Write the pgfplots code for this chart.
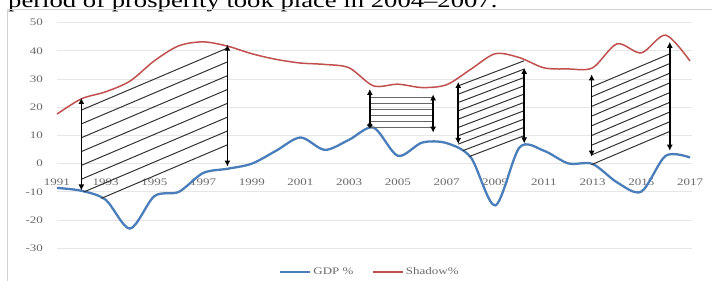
\documentclass[border=0pt]{standalone}
\usepackage{fontspec}
\usepackage{pgfplots}
\pgfplotsset{compat=1.18}
\usetikzlibrary{arrows.meta}
\setmainfont{Liberation Serif}
\newfontfamily\chartfont[FakeStretch=1.3]{Liberation Serif}
\definecolor{gdpblue}{HTML}{4A7EBB}
\definecolor{shadred}{HTML}{C0504D}
\definecolor{ticktxt}{HTML}{6A6A6A}
\definecolor{gridc}{HTML}{E6E6E6}
\definecolor{hatch}{HTML}{333333}
\tikzset{
  hl/.style={hatch, line width=1pt},
  ar/.style={black, line width=1.6pt, {Latex[length=6pt,width=6pt]}-{Latex[length=6pt,width=6pt]}},
}
\begin{document}
\begin{tikzpicture}[x=1pt,y=1pt]
\node[anchor=base west, inner sep=0pt, font={\chartfont\fontsize{20.5}{24}\selectfont}] at (8,273.8) {period of prosperity took place in 2004–2007.};
\draw[gray!35, line width=0.8pt] (7,-2) -- (7,272) -- (714,272);
\begin{axis}[
  at={(57pt,32.7pt)}, anchor=south west, scale only axis,
  width=634.7pt, height=225.6pt,
  xmin=1991, xmax=2017.07, ymin=-30, ymax=50,
  axis line style={draw=none}, tick style={draw=none}, major tick length=0pt,
  xtick={1991,1993,1995,1997,1999,2001,2003,2005,2007,2009,2011,2013,2015,2017},
  xticklabels={1991,1993,1995,1997,1999,2001,2003,2005,2007,2009,2011,2013,2015,2017},
  ytick={-30,-20,-10,0,10,20,30,40,50},
  yticklabels={-30,-20,-10,0,10,20,30,40,50},
  ymajorgrids, grid style={gridc, line width=0.8pt},
  ticklabel style={font={\chartfont\fontsize{10}{12}\selectfont}, text=ticktxt},
  xticklabel style={anchor=center, yshift=65.8pt},
  yticklabel style={anchor=east, xshift=-10.5pt},
  clip=false,
  legend style={at={(0.493,-0.105)}, anchor=center, draw=none, fill=none,
    legend columns=2, font={\chartfont\fontsize{10}{12}\selectfont}, text=ticktxt,
    /tikz/every even column/.append style={column sep=17pt},
    nodes={inner sep=2pt}},
  legend image code/.code={\draw[#1] (0pt,0pt) -- (30pt,0pt);},
]
\addplot[gdpblue, line width=2.3pt, smooth] coordinates {
(1991,-8.6) (1992,-9.6) (1993,-12.8) (1994,-23) (1995,-11.5) (1996,-10)
(1997,-3.3) (1998,-1.8) (1999,0) (2000,4.6) (2001,9.3) (2002,4.9)
(2003,8.5) (2004,12.8) (2005,2.8) (2006,7.5) (2007,7.3) (2008,2.2)
(2009,-14.8) (2010,5.8) (2011,4.6) (2012,0.1) (2013,-0.1) (2014,-6.6)
(2015,-9.9) (2016,2.8) (2017,2.2)};
\addlegendentry{GDP \%}
\addplot[shadred, line width=1.5pt, smooth] coordinates {
(1991,17.6) (1992,23) (1993,25.5) (1994,29.3) (1995,36.5) (1996,41.8)
(1997,43.2) (1998,41.7) (1999,39) (2000,37) (2001,35.7) (2002,35.2)
(2003,34) (2004,27.6) (2005,28.2) (2006,27) (2007,28) (2008,33.5)
(2009,39) (2010,37.6) (2011,34) (2012,33.6) (2013,34) (2014,42.5)
(2015,39.3) (2016,45.6) (2017,36.4)};
\addlegendentry{Shadow\%}
% region 1 hatching
\begin{scope}
\clip (axis cs:1991.9,25) -- (axis cs:1998.1,45) -- (axis cs:1998.1,6.2) -- (axis cs:1993,-12.9) -- (axis cs:1992,-9.7) -- (axis cs:1991.9,-9.7) -- cycle;
\draw[hl] (axis cs:1992,19) -- (axis cs:1998,41);
\draw[hl] (axis cs:1992,14.1) -- (axis cs:1998,36.1);
\draw[hl] (axis cs:1992,9.2) -- (axis cs:1998,31.2);
\draw[hl] (axis cs:1992,4.3) -- (axis cs:1998,26.3);
\draw[hl] (axis cs:1992,-0.6) -- (axis cs:1998,21.4);
\draw[hl] (axis cs:1992,-5.5) -- (axis cs:1998,16.5);
\draw[hl] (axis cs:1992,-10.4) -- (axis cs:1998,11.6);
\draw[hl] (axis cs:1992,-15.3) -- (axis cs:1998,6.7);
\end{scope}
% region 4 hatching
\begin{scope}
\clip (axis cs:2007.4,40) -- (axis cs:2010.3,40) -- (axis cs:2010.3,9.5) -- (axis cs:2008,2.0) -- (axis cs:2007.48,6.3) -- (axis cs:2007.4,6.3) -- cycle;
\draw[hl] (axis cs:2007.48,27.6) -- (axis cs:2010.19,36.5);
\draw[hl] (axis cs:2007.48,24.65) -- (axis cs:2010.19,33.55);
\draw[hl] (axis cs:2007.48,21.7) -- (axis cs:2010.19,30.6);
\draw[hl] (axis cs:2007.48,18.75) -- (axis cs:2010.19,27.65);
\draw[hl] (axis cs:2007.48,15.8) -- (axis cs:2010.19,24.7);
\draw[hl] (axis cs:2007.48,12.85) -- (axis cs:2010.19,21.75);
\draw[hl] (axis cs:2007.48,9.9) -- (axis cs:2010.19,18.8);
\draw[hl] (axis cs:2007.48,6.95) -- (axis cs:2010.19,15.85);
\draw[hl] (axis cs:2007.48,4.0) -- (axis cs:2010.19,12.9);
\draw[hl] (axis cs:2007.48,1.05) -- (axis cs:2010.19,9.95);
\end{scope}
% region 5 hatching
\draw[hl] (axis cs:2012.96,27.2) -- (axis cs:2016.17,38.97);
\draw[hl] (axis cs:2012.96,23.76) -- (axis cs:2016.17,35.53);
\draw[hl] (axis cs:2012.96,20.32) -- (axis cs:2016.17,32.09);
\draw[hl] (axis cs:2012.96,16.88) -- (axis cs:2016.17,28.65);
\draw[hl] (axis cs:2012.96,13.44) -- (axis cs:2016.17,25.21);
\draw[hl] (axis cs:2012.96,10.0) -- (axis cs:2016.17,21.77);
\draw[hl] (axis cs:2012.96,6.56) -- (axis cs:2016.17,18.33);
\draw[hl] (axis cs:2012.96,3.12) -- (axis cs:2016.17,14.89);
\draw[hl] (axis cs:2012.96,-0.32) -- (axis cs:2016.17,11.45);
% box 2004-2006
\draw[hatch!75, line width=1.3pt] (axis cs:2003.85,23.4) -- (axis cs:2006.45,23.4);
\draw[hatch!75, line width=1.3pt] (axis cs:2003.85,21.3) -- (axis cs:2006.45,21.3);
\draw[hatch!75, line width=1.3pt] (axis cs:2003.85,19.2) -- (axis cs:2006.45,19.2);
\draw[hatch!75, line width=1.3pt] (axis cs:2003.85,17.1) -- (axis cs:2006.45,17.1);
\draw[hatch!75, line width=1.3pt] (axis cs:2003.85,15.0) -- (axis cs:2006.45,15.0);
\draw[hatch!75, line width=1.3pt] (axis cs:2003.85,12.9) -- (axis cs:2006.45,12.9);
% arrows
\draw[ar] (axis cs:1992,23.3) -- (axis cs:1992,-9.5);
\draw[ar] (axis cs:1998,42.2) -- (axis cs:1998,-1.0);
\draw[black, line width=1.6pt, {Circle[length=5pt]}-{Latex[length=6pt,width=6pt]}] (axis cs:2003.85,12.8) -- (axis cs:2003.85,26.5);
\draw[ar] (axis cs:2006.45,24.6) -- (axis cs:2006.45,11);
\draw[ar] (axis cs:2007.48,29) -- (axis cs:2007.48,7);
\draw[ar] (axis cs:2010.19,34) -- (axis cs:2010.19,7.2);
\draw[ar] (axis cs:2012.96,31.7) -- (axis cs:2012.96,2.5);
\draw[ar] (axis cs:2016.17,43.2) -- (axis cs:2016.17,4.6);
\end{axis}
\pgfresetboundingbox
\useasboundingbox (0,0) rectangle (712,281);
\end{tikzpicture}
\end{document}
